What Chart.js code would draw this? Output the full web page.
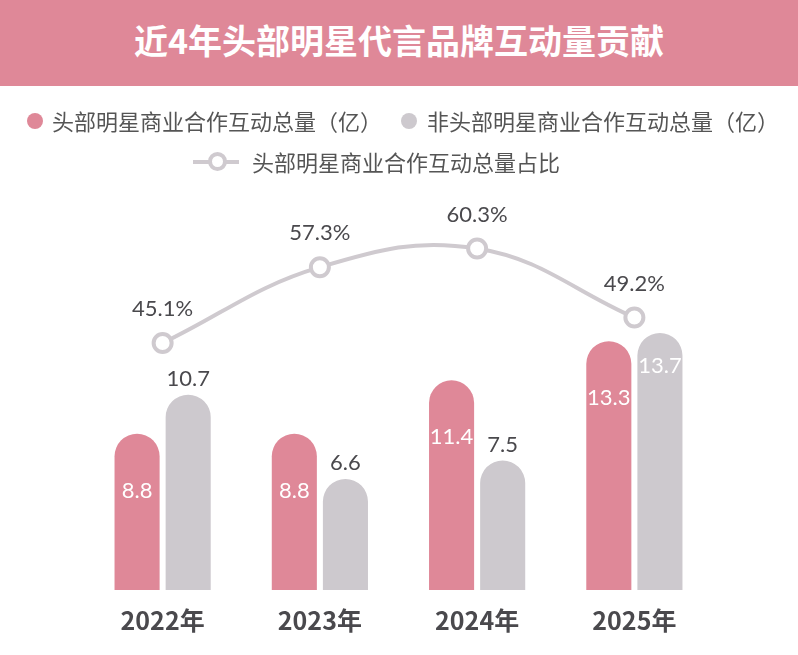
<!DOCTYPE html>
<html>
<head>
<meta charset="utf-8">
<script src="https://cdn.jsdelivr.net/npm/chart.js@4"></script>
<style>
  body { margin: 0; width: 798px; height: 655px; position: relative; background: #fff; overflow: hidden;
         font-family: 'Noto Sans CJK SC', sans-serif; }
  #c { position: absolute; left: 0; top: 0; }
  .head { position: absolute; left: 0; top: 0; width: 798px; height: 86px; background: #df8898; color: #fff;
          font-weight: bold; font-size: 34px; text-align: center; line-height: 80px; }
  .lg { position: absolute; font-size: 22px; color: #555; line-height: 24px; white-space: nowrap; }
  .dot { position: absolute; width: 16px; height: 16px; border-radius: 50%; }
  .lineicon { position: absolute; width: 46px; height: 4px; background: #cfcacf; }
  .ring { position: absolute; width: 11px; height: 11px; border: 4px solid #cfcacf; border-radius: 50%; background: #fff; }
</style>
</head>
<body>
<canvas id="c" width="798" height="655"></canvas>
<div class="head">近4年头部明星代言品牌互动量贡献</div>
<div class="dot" style="left:27px;top:113px;background:#df8898"></div>
<div class="lg" style="left:52px;top:108px">头部明星商业合作互动总量（亿）</div>
<div class="dot" style="left:401px;top:113px;background:#cdc9ce"></div>
<div class="lg" style="left:427px;top:108px">非头部明星商业合作互动总量（亿）</div>
<div class="lineicon" style="left:193px;top:160px"></div>
<div class="ring" style="left:208px;top:152px"></div>
<div class="lg" style="left:252px;top:149px">头部明星商业合作互动总量占比</div>
<script>
const years = ['2022年', '2023年', '2024年', '2025年']
const topStar = [8.8, 8.8, 11.4, 13.3]
const otherStar = [10.7, 6.6, 7.5, 13.7]
const topShare = [45.1, 57.3, 60.3, 49.2]
// gray labels that sit inside the bar (would hit the line labels otherwise)
const grayInside = [3]

const pink = '#df8898'
const gray = '#cdc9ce'
const dark = '#4a494d'

const valueLabels = {
  id: 'valueLabels',
  afterDatasetsDraw(chart) {
    const ctx = chart.ctx
    ctx.save()
    ctx.font = '22px Lato, "Noto Sans CJK SC"'
    ctx.textAlign = 'center'
    ctx.textBaseline = 'middle'
    chart.data.datasets.forEach((ds, i) => {
      chart.getDatasetMeta(i).data.forEach((el, j) => {
        const v = ds.data[j]
        let y, color, text = v.toFixed(1)
        if (ds.type === 'line') {
          y = el.y - 34; color = dark; text += '%'
        } else if (i === 0) {
          y = el.y + 57; color = '#fff'
        } else if (grayInside.includes(j)) {
          y = el.y + 33; color = '#fff'
        } else {
          y = el.y - 16; color = dark
        }
        ctx.fillStyle = color
        ctx.fillText(text, el.x, y)
      })
    })
    ctx.restore()
  }
}

new Chart(document.getElementById('c'), {
  data: {
    labels: years,
    datasets: [{
      type: 'bar',
      label: '头部明星商业合作互动总量（亿）',
      data: topStar,
      backgroundColor: pink,
      borderRadius: 23,
      categoryPercentage: 0.65,
      barPercentage: 0.882,
      yAxisID: 'y',
      order: 2
    }, {
      type: 'bar',
      label: '非头部明星商业合作互动总量（亿）',
      data: otherStar,
      backgroundColor: gray,
      borderRadius: 23,
      categoryPercentage: 0.65,
      barPercentage: 0.882,
      yAxisID: 'y',
      order: 2
    }, {
      type: 'line',
      label: '头部明星商业合作互动总量占比',
      data: topShare,
      borderColor: '#cfcacf',
      borderWidth: 4,
      tension: 0.4,
      pointRadius: 9,
      pointBorderWidth: 4,
      pointBackgroundColor: '#fff',
      pointBorderColor: '#cfcacf',
      yAxisID: 'y1',
      order: 1
    }]
  },
  options: {
    responsive: false,
    animation: false,
    devicePixelRatio: 1,
    layout: { padding: { left: 84, right: 85, top: 200, bottom: 0 } },
    plugins: { legend: { display: false }, tooltip: { enabled: false } },
    scales: {
      x: {
        grid: { display: false, drawTicks: false },
        border: { display: false },
        ticks: { color: dark, padding: 15, font: { family: 'Noto Sans CJK SC', size: 25, weight: 'bold' } },
        afterFit: s => { s.height = 65 }
      },
      y: { display: false, min: 1.2, max: 20.17 },
      y1: { display: false, position: 'right', min: 5.4, max: 68.1 }
    }
  },
  plugins: [valueLabels]
})
</script>
</body>
</html>
